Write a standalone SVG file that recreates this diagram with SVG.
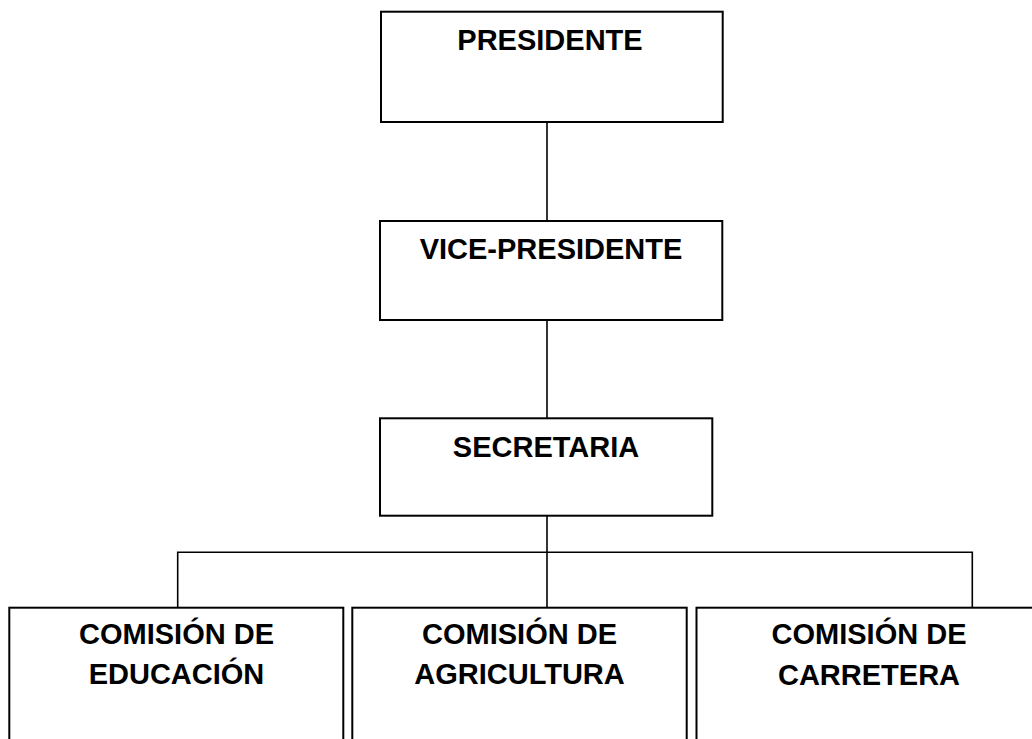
<svg xmlns="http://www.w3.org/2000/svg" width="1032" height="739" viewBox="0 0 1032 739">
<style>
.box{fill:#fff;stroke:#000;stroke-width:2}
.lbl{font-family:"Liberation Sans",Arial,sans-serif;font-weight:bold;font-size:29px;fill:#000;text-anchor:middle}
.con{fill:none;stroke:#000;stroke-width:1.6}
</style>
<rect width="1032" height="739" fill="#fff"/>
<g id="connectors">
<path class="con" d="M547,122 V221"/>
<path class="con" d="M547,320 V418"/>
<path class="con" d="M547,516 V608"/>
<path class="con" d="M177.7,608 V552.3 H972.3 V608"/>
</g>
<g id="presidente">
<rect class="box" x="381" y="11.7" width="341.7" height="110.3"/>
<text class="lbl" x="550" y="50">PRESIDENTE</text>
</g>
<g id="vicepresidente">
<rect class="box" x="380" y="221" width="342.3" height="99"/>
<text class="lbl" x="551" y="259.3">VICE-PRESIDENTE</text>
</g>
<g id="secretaria">
<rect class="box" x="380" y="418.3" width="332.3" height="97.4"/>
<text class="lbl" x="546" y="456.7">SECRETARIA</text>
</g>
<g id="educacion">
<rect class="box" x="9.3" y="607.7" width="334" height="160"/>
<text class="lbl" x="176.5" y="644">COMISIÓN DE</text>
<text class="lbl" x="176.5" y="684">EDUCACIÓN</text>
</g>
<g id="agricultura">
<rect class="box" x="352.3" y="607.7" width="334.4" height="160"/>
<text class="lbl" x="519.5" y="644">COMISIÓN DE</text>
<text class="lbl" x="519.5" y="684">AGRICULTURA</text>
</g>
<g id="carretera">
<rect class="box" x="696.5" y="607.7" width="360" height="160"/>
<text class="lbl" x="869" y="644">COMISIÓN DE</text>
<text class="lbl" x="869" y="685">CARRETERA</text>
</g>
</svg>
